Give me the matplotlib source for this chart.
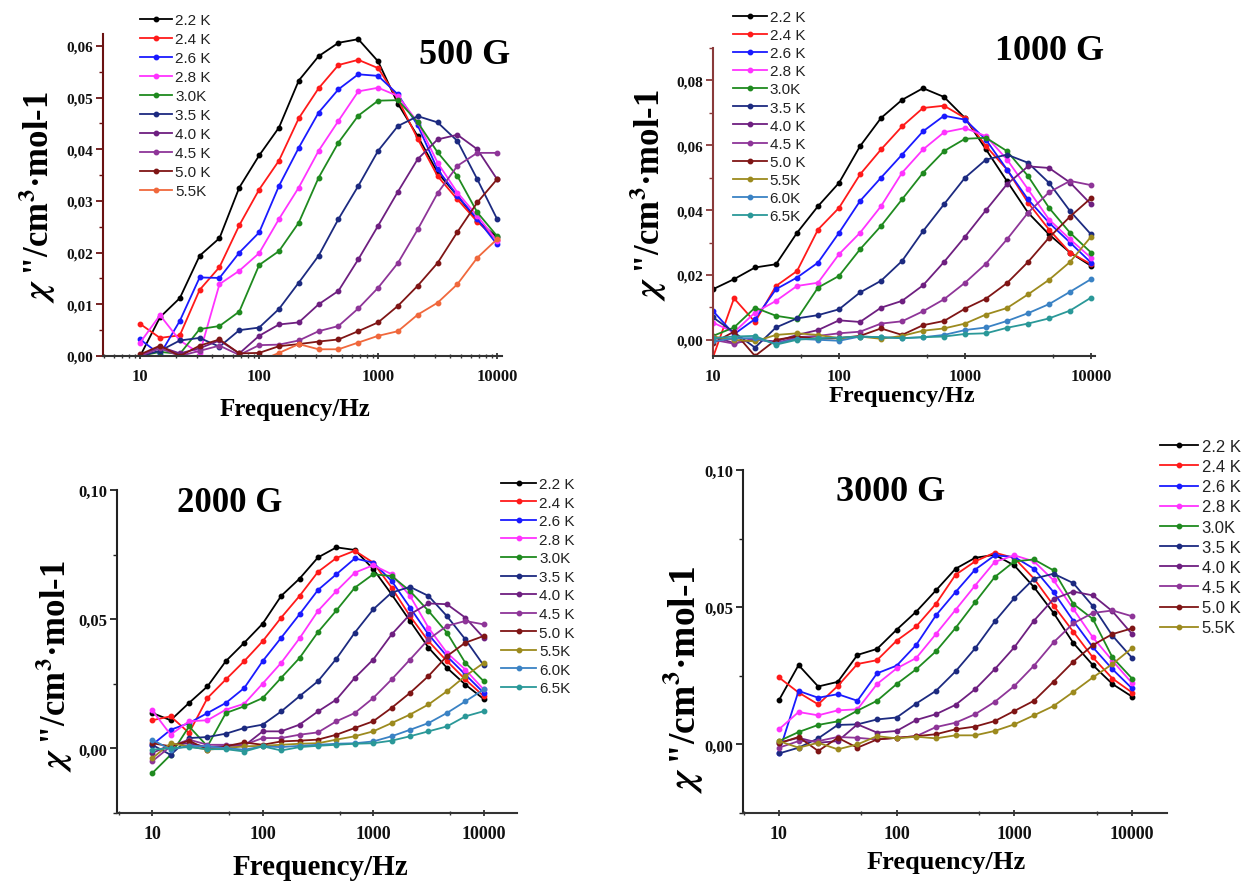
import matplotlib
matplotlib.use("Agg")
import matplotlib.pyplot as plt
from matplotlib.ticker import FixedLocator, FuncFormatter, LogLocator, MultipleLocator, NullFormatter

# ====================================
# DATA  (chi'' in cm3/mol)
# ====================================

freq = [10, 14.68, 21.54, 31.62, 46.42, 68.13, 100, 146.8, 215.4, 316.2,
        464.2, 681.3, 1000, 1468, 2154, 3162, 4642, 6813, 10000]

temps_500 = ["2.2 K", "2.4 K", "2.6 K", "2.8 K", "3.0K", "3.5 K", "4.0 K", "4.5 K", "5.0 K", "5.5K"]
temps_1000 = temps_500 + ["6.0K", "6.5K"]
temps_2000 = temps_1000
temps_3000 = temps_500

chi_500 = [
    [0.0000, 0.0075, 0.0112, 0.0194, 0.0228, 0.0326, 0.0388, 0.0442, 0.0533, 0.0580, 0.0606, 0.0613, 0.0570, 0.0488, 0.0425, 0.0355, 0.0310, 0.0262, 0.0230],
    [0.0062, 0.0035, 0.0040, 0.0128, 0.0172, 0.0253, 0.0322, 0.0378, 0.0460, 0.0518, 0.0563, 0.0573, 0.0557, 0.0497, 0.0420, 0.0348, 0.0303, 0.0260, 0.0225],
    [0.0032, 0.0003, 0.0068, 0.0152, 0.0151, 0.0200, 0.0239, 0.0329, 0.0403, 0.0471, 0.0516, 0.0545, 0.0542, 0.0506, 0.0446, 0.0361, 0.0310, 0.0265, 0.0216],
    [0.0026, 0.0079, 0.0030, 0.0005, 0.0139, 0.0165, 0.0199, 0.0265, 0.0326, 0.0397, 0.0455, 0.0512, 0.0519, 0.0503, 0.0452, 0.0374, 0.0316, 0.0271, 0.0223],
    [0.0000, 0.0008, 0.0004, 0.0052, 0.0058, 0.0086, 0.0176, 0.0203, 0.0258, 0.0345, 0.0413, 0.0465, 0.0494, 0.0495, 0.0452, 0.0394, 0.0348, 0.0278, 0.0232],
    [0.0000, 0.0010, 0.0030, 0.0035, 0.0018, 0.0050, 0.0055, 0.0091, 0.0142, 0.0194, 0.0265, 0.0329, 0.0397, 0.0445, 0.0464, 0.0452, 0.0416, 0.0342, 0.0265],
    [0.0000, 0.0018, 0.0005, 0.0015, 0.0030, 0.0005, 0.0039, 0.0061, 0.0065, 0.0100, 0.0126, 0.0187, 0.0252, 0.0318, 0.0381, 0.0419, 0.0428, 0.0400, 0.0342],
    [0.0000, 0.0015, 0.0000, 0.0010, 0.0020, 0.0002, 0.0021, 0.0022, 0.0030, 0.0048, 0.0058, 0.0092, 0.0132, 0.0180, 0.0245, 0.0315, 0.0368, 0.0393, 0.0393],
    [0.0003, 0.0020, 0.0000, 0.0020, 0.0032, 0.0005, 0.0006, 0.0019, 0.0023, 0.0028, 0.0032, 0.0048, 0.0065, 0.0097, 0.0136, 0.0180, 0.0240, 0.0297, 0.0342],
    [-0.003, -0.002, -0.003, -0.002, -0.002, -0.003, -0.001, 0.0006, 0.0023, 0.0013, 0.0013, 0.0026, 0.0039, 0.0048, 0.0080, 0.0103, 0.0139, 0.0190, 0.0226],
]

chi_1000 = [
    [0.0156, 0.0187, 0.0223, 0.0233, 0.0330, 0.0412, 0.0484, 0.0597, 0.0684, 0.0740, 0.0776, 0.0749, 0.0684, 0.0587, 0.0489, 0.0392, 0.0325, 0.0269, 0.0228],
    [-0.0054, 0.0128, 0.0055, 0.0166, 0.0212, 0.0340, 0.0407, 0.0510, 0.0587, 0.0658, 0.0715, 0.0722, 0.0684, 0.0597, 0.0525, 0.0423, 0.0340, 0.0269, 0.0233],
    [0.0089, 0.0017, 0.0064, 0.0156, 0.0192, 0.0238, 0.0330, 0.0428, 0.0500, 0.0571, 0.0643, 0.0691, 0.0679, 0.0617, 0.0525, 0.0433, 0.0361, 0.0300, 0.0238],
    [0.0053, 0.0023, 0.0084, 0.0120, 0.0166, 0.0176, 0.0264, 0.0330, 0.0412, 0.0515, 0.0587, 0.0640, 0.0653, 0.0628, 0.0556, 0.0464, 0.0371, 0.0310, 0.0253],
    [0.0012, 0.0038, 0.0099, 0.0074, 0.0064, 0.0161, 0.0197, 0.0279, 0.0351, 0.0433, 0.0515, 0.0582, 0.0620, 0.0623, 0.0582, 0.0505, 0.0407, 0.0330, 0.0269],
    [0.0069, 0.0023, -0.0024, 0.0038, 0.0066, 0.0076, 0.0094, 0.0146, 0.0182, 0.0243, 0.0335, 0.0418, 0.0500, 0.0556, 0.0571, 0.0546, 0.0484, 0.0397, 0.0325],
    [0.0010, -0.0010, 0.0000, -0.0005, 0.0015, 0.0030, 0.0060, 0.0055, 0.0099, 0.0120, 0.0168, 0.0240, 0.0318, 0.0400, 0.0480, 0.0535, 0.0530, 0.0485, 0.0418],
    [0.0000, -0.0012, 0.0005, -0.0010, 0.0008, 0.0012, 0.0020, 0.0025, 0.0050, 0.0057, 0.0088, 0.0125, 0.0176, 0.0235, 0.0310, 0.0392, 0.0455, 0.0490, 0.0477],
    [-0.0010, 0.0025, -0.0050, 0.0000, 0.0010, 0.0003, 0.0005, 0.0012, 0.0035, 0.0015, 0.0045, 0.0058, 0.0096, 0.0127, 0.0175, 0.0240, 0.0315, 0.0380, 0.0437],
    [0.0010, 0.0000, -0.0005, 0.0015, 0.0020, 0.0015, 0.0005, 0.0010, 0.0003, 0.0012, 0.0028, 0.0035, 0.0050, 0.0078, 0.0098, 0.0140, 0.0185, 0.0240, 0.0318],
    [-0.0005, 0.0005, 0.0005, -0.0012, 0.0003, 0.0000, -0.0003, 0.0010, 0.0008, 0.0005, 0.0008, 0.0015, 0.0030, 0.0038, 0.0058, 0.0082, 0.0110, 0.0148, 0.0187],
    [0.0005, 0.0010, 0.0012, -0.0015, 0.0000, 0.0005, 0.0007, 0.0010, 0.0008, 0.0005, 0.0008, 0.0010, 0.0018, 0.0020, 0.0037, 0.0050, 0.0066, 0.0090, 0.0130],
]

chi_2000 = [
    [0.0137, 0.0109, 0.0176, 0.0240, 0.0338, 0.0409, 0.0483, 0.0590, 0.0657, 0.0739, 0.0778, 0.0768, 0.0694, 0.0596, 0.0493, 0.0390, 0.0312, 0.0247, 0.0191],
    [0.0109, 0.0124, 0.0060, 0.0195, 0.0267, 0.0338, 0.0415, 0.0506, 0.0590, 0.0683, 0.0737, 0.0765, 0.0719, 0.0622, 0.0512, 0.0415, 0.0338, 0.0267, 0.0202],
    [0.0014, 0.0072, 0.0098, 0.0137, 0.0176, 0.0234, 0.0338, 0.0428, 0.0519, 0.0613, 0.0674, 0.0735, 0.0719, 0.0648, 0.0545, 0.0441, 0.0357, 0.0286, 0.0215],
    [0.0147, 0.0053, 0.0105, 0.0109, 0.0150, 0.0173, 0.0251, 0.0331, 0.0426, 0.0532, 0.0609, 0.0680, 0.0709, 0.0674, 0.0590, 0.0467, 0.0370, 0.0305, 0.0228],
    [-0.0096, -0.0025, 0.0085, 0.0008, 0.0137, 0.0163, 0.0195, 0.0273, 0.0350, 0.0450, 0.0534, 0.0622, 0.0674, 0.0667, 0.0609, 0.0532, 0.0448, 0.0331, 0.0260],
    [0.0014, -0.0025, 0.0040, 0.0044, 0.0057, 0.0079, 0.0092, 0.0143, 0.0202, 0.0260, 0.0347, 0.0448, 0.0538, 0.0603, 0.0625, 0.0590, 0.0512, 0.0422, 0.0321],
    [-0.0018, 0.0014, 0.0020, 0.0005, 0.0010, 0.0010, 0.0066, 0.0066, 0.0092, 0.0143, 0.0189, 0.0273, 0.0344, 0.0441, 0.0519, 0.0561, 0.0558, 0.0506, 0.0428],
    [-0.0050, 0.0008, 0.0034, 0.0014, 0.0014, 0.0014, 0.0040, 0.0040, 0.0053, 0.0062, 0.0105, 0.0137, 0.0195, 0.0267, 0.0344, 0.0422, 0.0474, 0.0493, 0.0480],
    [0.0020, 0.0008, 0.0030, -0.0005, 0.0008, 0.0023, 0.0014, 0.0027, 0.0030, 0.0034, 0.0053, 0.0079, 0.0105, 0.0157, 0.0215, 0.0280, 0.0357, 0.0409, 0.0435],
    [-0.0038, 0.0020, 0.0008, -0.0005, 0.0001, 0.0008, 0.0010, 0.0014, 0.0018, 0.0020, 0.0034, 0.0047, 0.0066, 0.0098, 0.0131, 0.0170, 0.0221, 0.0280, 0.0331],
    [0.0034, -0.0005, 0.0010, 0.0008, 0.0001, -0.0005, 0.0008, 0.0005, 0.0010, 0.0014, 0.0018, 0.0020, 0.0027, 0.0047, 0.0072, 0.0098, 0.0137, 0.0182, 0.0228],
    [-0.0005, 0.0001, 0.0005, -0.0003, -0.0003, -0.0012, 0.0008, -0.0008, 0.0005, 0.0010, 0.0014, 0.0018, 0.0020, 0.0030, 0.0047, 0.0066, 0.0085, 0.0124, 0.0144],
]

chi_3000 = [
    [0.0161, 0.0289, 0.0211, 0.0228, 0.0326, 0.0348, 0.0418, 0.0484, 0.0561, 0.0640, 0.0680, 0.0691, 0.0652, 0.0573, 0.0479, 0.0370, 0.0289, 0.0220, 0.0174],
    [0.0244, 0.0189, 0.0146, 0.0213, 0.0293, 0.0307, 0.0378, 0.0430, 0.0512, 0.0618, 0.0667, 0.0699, 0.0679, 0.0604, 0.0506, 0.0411, 0.0317, 0.0240, 0.0189],
    [-0.0030, 0.0195, 0.0170, 0.0183, 0.0159, 0.0259, 0.0287, 0.0363, 0.0470, 0.0555, 0.0637, 0.0689, 0.0683, 0.0640, 0.0555, 0.0451, 0.0354, 0.0274, 0.0204],
    [0.0055, 0.0118, 0.0106, 0.0124, 0.0128, 0.0220, 0.0277, 0.0315, 0.0402, 0.0490, 0.0579, 0.0665, 0.0689, 0.0667, 0.0598, 0.0494, 0.0390, 0.0305, 0.0223],
    [0.0012, 0.0045, 0.0071, 0.0084, 0.0123, 0.0159, 0.0220, 0.0274, 0.0339, 0.0424, 0.0518, 0.0610, 0.0667, 0.0674, 0.0634, 0.0512, 0.0457, 0.0317, 0.0240],
    [-0.0033, -0.0012, 0.0022, 0.0071, 0.0073, 0.0091, 0.0098, 0.0149, 0.0195, 0.0266, 0.0350, 0.0448, 0.0533, 0.0604, 0.0622, 0.0588, 0.0504, 0.0396, 0.0315],
    [0.0006, 0.0024, 0.0006, 0.0012, 0.0073, 0.0043, 0.0049, 0.0089, 0.0110, 0.0144, 0.0201, 0.0274, 0.0354, 0.0451, 0.0530, 0.0557, 0.0543, 0.0485, 0.0402],
    [-0.0012, 0.0012, 0.0012, 0.0027, 0.0024, 0.0018, 0.0024, 0.0030, 0.0063, 0.0079, 0.0110, 0.0155, 0.0213, 0.0287, 0.0372, 0.0441, 0.0479, 0.0488, 0.0467],
    [0.0004, 0.0027, -0.0024, 0.0024, -0.0012, 0.0018, 0.0024, 0.0030, 0.0037, 0.0055, 0.0065, 0.0085, 0.0122, 0.0159, 0.0229, 0.0301, 0.0362, 0.0402, 0.0423],
    [0.0012, -0.0012, 0.0006, -0.0018, 0.0000, 0.0030, 0.0022, 0.0028, 0.0022, 0.0033, 0.0033, 0.0049, 0.0073, 0.0106, 0.0140, 0.0191, 0.0244, 0.0293, 0.0351],
]

# ====================================
# STYLE
# ====================================

colors_b = ["#000000", "#ff1a1a", "#1a1aff", "#ff33ff", "#1f8a1f", "#1c2a80",
            "#6e1f80", "#8e3598", "#7f1515", "#9c8a1e", "#3a82c4", "#2a9898"]
colors_a = colors_b[:9] + ["#f0683c"]

plt.rcParams["font.family"] = ["Liberation Serif", "DejaVu Serif"]
plt.rcParams["font.weight"] = "bold"
plt.rcParams["mathtext.fontset"] = "stix"

W, H = 1243, 887
fig = plt.figure(figsize=(W / 100, H / 100), dpi=100)

comma = FuncFormatter(lambda v, p: f"{v:.2f}".replace(".", ","))
ylab = r'$\chi$ "/cm$^{\mathbf{3}}$·mol-1'


def panel(box, table, temps, cols, xlim, ylim, yticks, ystep_minor, xsubs,
          spine_col, title, title_xy, title_size, ylab_xy, ylab_size,
          xlab_xy, xlab_size, leg_xy, leg_size, leg_hl, leg_sp, tick_size):
    l, t, r, b = box
    ax = fig.add_axes([l / W, 1 - b / H, (r - l) / W, (b - t) / H])
    lines = []
    for row, lab, c in zip(table, temps, cols):
        ln, = ax.plot(freq, row, color=c, lw=1.3, marker="o", ms=3.2, label=lab)
        lines.append(ln)
    ax.set_xscale("log")
    ax.set_xlim(*xlim)
    ax.set_ylim(*ylim)
    ax.xaxis.set_major_locator(FixedLocator([10, 100, 1000, 10000]))
    ax.xaxis.set_major_formatter(FuncFormatter(lambda v, p: f"{v:.0f}"))
    ax.xaxis.set_minor_locator(LogLocator(base=10, subs=xsubs))
    ax.xaxis.set_minor_formatter(NullFormatter())
    ax.yaxis.set_major_locator(FixedLocator(yticks))
    ax.yaxis.set_minor_locator(MultipleLocator(ystep_minor))
    ax.yaxis.set_major_formatter(comma)
    for s in ["top", "right"]:
        ax.spines[s].set_visible(False)
    ax.spines["left"].set_color(spine_col)
    ax.spines["bottom"].set_color("#333333")
    ax.spines["left"].set_linewidth(1.5)
    ax.spines["bottom"].set_linewidth(1.5)
    ax.tick_params(axis="y", which="both", colors=spine_col, labelcolor="#111111",
                   direction="out", labelsize=tick_size, pad=2)
    ax.tick_params(axis="x", which="both", colors="#333333", labelcolor="#111111",
                   direction="inout", labelsize=tick_size + 1, pad=6)
    ax.tick_params(which="major", length=5, width=1.3)
    ax.tick_params(which="minor", length=3, width=1.0)

    fig.text(title_xy[0] / W, 1 - title_xy[1] / H, title, fontsize=title_size,
             ha="center", va="center")
    fig.text(ylab_xy[0] / W, 1 - ylab_xy[1] / H, ylab, fontsize=ylab_size,
             rotation=90, ha="center", va="center")
    fig.text(xlab_xy[0] / W, 1 - xlab_xy[1] / H, "Frequency/Hz", fontsize=xlab_size,
             ha="center", va="center")
    fig.legend(lines, temps, loc="upper left",
               bbox_to_anchor=(leg_xy[0] / W, 1 - leg_xy[1] / H),
               frameon=False, borderpad=0, borderaxespad=0,
               handlelength=leg_hl, handletextpad=0.2, labelspacing=leg_sp,
               prop={"family": "Liberation Sans", "weight": "normal", "size": leg_size},
               labelcolor="#222222")
    return ax


panel((103, 35, 502, 357), chi_500, temps_500, colors_a,
      (4.87, 11000), (0, 0.0623), [0, 0.01, 0.02, 0.03, 0.04, 0.05, 0.06], 0.005,
      (2, 3, 4, 5, 6, 7, 8, 9), "#6b1212",
      "500 G", (465, 55), 26, (37, 197), 25, (295, 410), 18,
      (140, 14), 11, 2.1, 0.33, 11)

panel((713, 49, 1095, 357), chi_1000, temps_1000, colors_b,
      (10, 10750), (-0.005, 0.090), [0, 0.02, 0.04, 0.06, 0.08], 0.01,
      (5,), "#8a3a3a",
      "1000 G", (1050, 52), 26, (648, 195), 25, (902, 397), 17.5,
      (733, 11), 11, 2.2, 0.27, 11)

panel((117, 491, 517, 814), chi_2000, temps_2000, colors_b,
      (4.8, 20000), (-0.025, 0.10), [0, 0.05, 0.10], 0.025,
      (5,), "#222222",
      "2000 G", (230, 504), 25, (54, 666), 25, (320, 868), 21,
      (501, 478), 11, 2.3, 0.3, 12)

panel((743, 471, 1167, 814), chi_3000, temps_3000, colors_a[:9] + [colors_b[9]],
      (4.95, 19800), (-0.025, 0.10), [0, 0.05, 0.10], 0.025,
      (5,), "#222222",
      "3000 G", (891, 493), 26, (683, 680), 27, (946, 863), 19,
      (1160, 440), 12, 2.3, 0.31, 12)

fig.savefig("out.png", dpi=100)
